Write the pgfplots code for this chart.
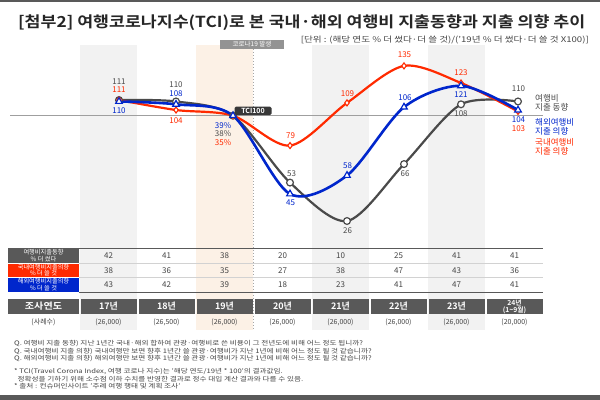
\documentclass[border=0pt]{standalone}
\usepackage{pgfplots}
\pgfplotsset{compat=1.18}
\usepackage{fontspec}
\setmainfont{Noto Sans CJK KR}[BoldFont={Noto Sans CJK KR Bold}]
\definecolor{tgray}{HTML}{4A4A4A}
\definecolor{tred}{HTML}{FF2A00}
\definecolor{tblue}{HTML}{0026CC}
\definecolor{bandgray}{HTML}{F2F2F2}
\definecolor{bandbeige}{HTML}{FCF1E6}
\definecolor{hdr}{HTML}{595959}
\definecolor{txt}{HTML}{444444}
\newcommand{\fs}[1]{\fontsize{#1bp}{#1bp}\selectfont}
\begin{document}
\begin{tikzpicture}
\useasboundingbox (0,0) rectangle (600bp,400bp);
\fill[white] (0,0) rectangle (600bp,400bp);
\begin{scope}[x=1bp,y=-1bp,shift={(0,400bp)}]
 \fill[hdr] (0,0) rectangle (600,2.5);
 \fill[hdr] (0,395.5) rectangle (600,400);
 \foreach \c in {108.5,340.5,456.5} \fill[bandgray] (\c-28.5,45) rectangle (\c+28.5,330);
 \fill[bandbeige] (196,45) rectangle (253,330);
 \draw[gray!70, dash pattern=on 1.5bp off 1.5bp, line width=0.8bp] (253,49) -- (253,330);
 \draw[gray!75, line width=1bp] (10,115.7) -- (543,115.7);
 % title
 \node[anchor=west, font=\fs{15}\bfseries, text=black!85, inner sep=0] at (18,22.5) {\resizebox{567bp}{12.8bp}{[첨부2] 여행코로나지수(TCI)로 본 국내·해외 여행비 지출동향과 지출 의향 추이}};
 \node[anchor=east, font=\fs{7.5}, text=txt, inner sep=0] at (589,40) {\resizebox{288bp}{6.5bp}{[단위 : (해당 연도 \% 더 썼다·더 쓸 것)/('19년 \% 더 썼다·더 쓸 것 X100)]}};
 \node[fill=gray!85, text=white, font=\fs{6.5}, minimum width=64bp, minimum height=9bp, inner sep=0] at (252,44.5) {코로나19 발생};
\end{scope}
\begin{axis}[at={(0,0)}, anchor=south west, scale only axis, width=600bp, height=400bp,
  xmin=-2.0877, xmax=8.4386, ymin=-99.79, ymax=181.31, hide axis, clip=false]
 \addplot[tgray, line width=2.2bp, smooth, mark=*, mark size=3.4bp, mark options={fill=white, line width=1.2bp}] coordinates {(0,111)(1,110)(2,100)(3,53)(4,26)(5,66)(6,108)(7,110)};
 \addplot[tred, line width=2.2bp, smooth, mark=diamond*, mark size=3bp, mark options={fill=white, line width=1.1bp}] coordinates {(0,111)(1,104)(2,100)(3,79)(4,109)(5,135)(6,123)(7,103)};
 \addplot[tblue, line width=2.6bp, smooth, mark=triangle*, mark size=3.8bp, mark options={fill=white, line width=1.2bp}] coordinates {(0,110)(1,108)(2,100)(3,45)(4,58)(5,106)(6,121)(7,104)};
\end{axis}
\begin{scope}[x=1bp,y=-1bp,shift={(0,400bp)}, every node/.style={inner sep=0, font=\fs{8}}]
 % data labels
 \node[text=tgray] at (119,81.5) {111};
 \node[text=tred] at (119,90) {111};
 \node[text=tblue] at (119,110.5) {110};
 \node[text=tgray] at (176,85) {110};
 \node[text=tblue] at (176,93.5) {108};
 \node[text=tred] at (176,120.5) {104};
 \node[text=tblue] at (223,125.5) {39\%};
 \node[text=tgray] at (223,134) {38\%};
 \node[text=tred] at (223,142.5) {35\%};
 \node[text=tred] at (290.5,136) {79};
 \node[text=tgray] at (291.5,174) {53};
 \node[text=tblue] at (290.5,203) {45};
 \node[text=tred] at (347.5,93.5) {109};
 \node[text=tblue] at (347.5,166) {58};
 \node[text=tgray] at (347.5,231) {26};
 \node[text=tred] at (404.5,55) {135};
 \node[text=tblue] at (405,97.5) {106};
 \node[text=tgray] at (405,174) {66};
 \node[text=tred] at (461,72.5) {123};
 \node[text=tblue] at (461,95) {121};
 \node[text=tgray] at (461,113.5) {108};
 \node[text=tgray] at (518.5,88.5) {110};
 \node[text=tblue] at (518.5,120) {104};
 \node[text=tred] at (518.5,128.5) {103};
 % legend labels
 \node[anchor=west, text=tgray, font=\fs{8.5}] at (535,98) {여행비};
 \node[anchor=west, text=tgray, font=\fs{8.5}] at (535,107) {지출 동향};
 \node[anchor=west, text=tblue, font=\fs{8.5}] at (535,122.5) {해외여행비};
 \node[anchor=west, text=tblue, font=\fs{8.5}] at (535,131) {지출 의향};
 \node[anchor=west, text=tred, font=\fs{8.5}] at (535,142) {국내여행비};
 \node[anchor=west, text=tred, font=\fs{8.5}] at (535,151) {지출 의향};
 % TCI100
 \node[fill=black!78, text=white, rounded corners=1.5bp, font=\fs{7}\bfseries, minimum width=37bp, minimum height=8.5bp] at (253,111) {TCI100};
 % table
 \fill[hdr] (8,248) rectangle (79,263);
 \fill[tred] (8,263) rectangle (79,277.5);
 \fill[tblue] (8,277.5) rectangle (79,292);
 \draw[white, line width=0.5bp] (8,263) -- (79,263) (8,277.5) -- (79,277.5);
 \node[align=center, text=white, font=\fontsize{6.2bp}{6.8bp}\selectfont] at (43.5,255.5) {여행비지출동향\\\% 더 썼다};
 \node[align=center, text=white, font=\fontsize{6.2bp}{6.8bp}\selectfont] at (43.5,270.2) {국내여행비지출의향\\\% 더 쓸 것};
 \node[align=center, text=white, font=\fontsize{6.2bp}{6.8bp}\selectfont] at (43.5,284.8) {해외여행비지출의향\\\% 더 쓸 것};
 \draw[hdr, line width=0.9bp] (79,248) -- (543,248);
 \draw[gray!35, line width=0.6bp] (79,263) -- (543,263) (79,277.5) -- (543,277.5);
 \draw[hdr, line width=0.9bp] (79,292) -- (543,292);
 \foreach \c/\a/\b/\d in {108.5/42/38/43, 166.5/41/36/42, 224.5/38/35/39, 282.5/20/27/18, 340.5/10/38/23, 398.5/25/47/41, 456.5/41/43/47, 514.5/41/36/41} {
   \node[text=txt] at (\c,255.5) {\a};
   \node[text=txt] at (\c,270.2) {\b};
   \node[text=txt] at (\c,284.8) {\d};
 }
 \fill[hdr] (8,299) rectangle (79,314);
 \node[text=white, font=\fs{9}\bfseries] at (43.5,306.5) {\scalebox{1.12}[1]{조사연도}};
 \foreach \c/\y in {108.5/17년, 166.5/18년, 224.5/19년, 282.5/20년, 340.5/21년, 398.5/22년, 456.5/23년} {
   \fill[hdr] (\c-28,299) rectangle (\c+28,314);
   \node[text=white, font=\fs{9}\bfseries] at (\c,306.5) {\y};
 }
 \fill[hdr] (514.5-28,299) rectangle (514.5+28,314);
 \node[text=white, align=center, font=\fontsize{6.8bp}{6.8bp}\selectfont\bfseries] at (514.5,306.5) {24년\\(1\textasciitilde9월)};
 \node[text=txt, font=\fs{7}] at (43.5,322.5) {(사례수)};
 \foreach \c/\n in {108.5/{26,000}, 166.5/{26,500}, 224.5/{26,000}, 282.5/{26,000}, 340.5/{26,000}, 398.5/{26,000}, 456.5/{26,000}, 514.5/{20,000}} {
   \node[text=txt, font=\fs{7}] at (\c,322.5) {(\n)};
 }
 % footer
 \begin{scope}[every node/.style={anchor=west, inner sep=0, text=txt, font=\fs{6.2}}]
 \node at (14,344) {\scalebox{1.23}[1]{Q. 여행비 지출 동향) 지난 1년간 국내·해외 합하여 관광·여행비로 쓴 비용이 그 전년도에 비해 어느 정도 됩니까?}};
 \node at (14,351.5) {\scalebox{1.23}[1]{Q. 국내여행비 지출 의향) 국내여행만 보면 향후 1년간 쓸 관광·여행비가 지난 1년에 비해 어느 정도 될 것 같습니까?}};
 \node at (14,359) {\scalebox{1.23}[1]{Q. 해외여행비 지출 의향) 해외여행만 보면 향후 1년간 쓸 관광·여행비가 지난 1년에 비해 어느 정도 될 것 같습니까?}};
 \node at (14,371.5) {\scalebox{1.23}[1]{* TCI(Travel Corona Index, 여행 코로나 지수)는 '해당 연도/19년 * 100'의 결과값임.}};
 \node at (14,379) {\scalebox{1.23}[1]{\ \ 정확성을 기하기 위해 소수점 이하 수치를 반영한 결과로 정수 대입 계산 결과와 다를 수 있음.}};
 \node at (14,386.5) {\scalebox{1.23}[1]{* 출처 : 컨슈머인사이트 '주례 여행 행태 및 계획 조사'}};
 \end{scope}
\end{scope}
\end{tikzpicture}
\end{document}
